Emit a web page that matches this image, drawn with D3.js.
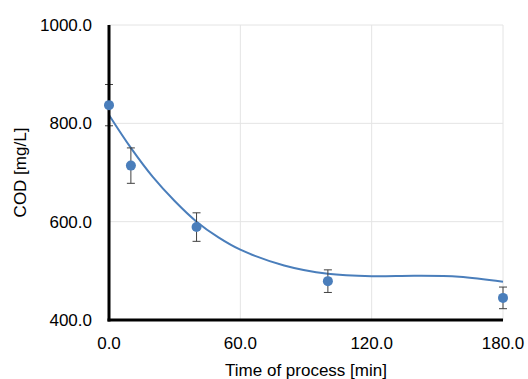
<!DOCTYPE html>
<html>
<head>
<meta charset="utf-8">
<script src="https://cdn.jsdelivr.net/npm/d3@7"></script>
<style>
body { margin: 0; background: #fff; }
text { font-family: "Liberation Sans", Arial, sans-serif; fill: #000; }
.grid line { stroke: #e4e4e4; stroke-width: 1; }
.trend { fill: none; stroke: #4a7ebb; stroke-width: 2; }
.err { stroke: #404040; stroke-width: 1; }
.dot { fill: #4a7ebb; }
</style>
</head>
<body>
<script>
// measured points
var times = [0, 10, 40, 100, 180];
var cod = [837, 714, 589, 479, 445];
var codErr = [42, 36, 29, 23, 22];

// trendline
var trendT = [0, 10, 20, 30, 40, 50, 60, 80, 100, 120, 140, 160, 180];
var trendCod = [817, 750, 691, 642, 600, 568, 543, 511, 494, 489, 490, 488, 478];

var xTicks = [0, 60, 120, 180];
var yTicks = [400, 600, 800, 1000];

var width = 528, height = 379;
var margin = {top: 25, right: 25, bottom: 59, left: 109};

var svg = d3.select("body").append("svg")
    .attr("width", width)
    .attr("height", height);

var x = d3.scaleLinear().domain([0, 180]).range([margin.left, width - margin.right]);
var y = d3.scaleLinear().domain([400, 1000]).range([height - margin.bottom, margin.top]);

// gridlines
var grid = svg.append("g").attr("class", "grid");
grid.selectAll(".gy").data(yTicks.slice(1)).enter().append("line")
    .attr("x1", x(0)).attr("x2", x(180))
    .attr("y1", function(d) { return y(d); }).attr("y2", function(d) { return y(d); });
grid.selectAll(".gx").data(xTicks.slice(1)).enter().append("line")
    .attr("y1", y(400)).attr("y2", y(1000))
    .attr("x1", function(d) { return x(d); }).attr("x2", function(d) { return x(d); });

// trendline
var line = d3.line()
    .x(function(d, i) { return x(trendT[i]); })
    .y(function(d) { return y(d); })
    .curve(d3.curveCatmullRom.alpha(0.5));
svg.append("path").datum(trendCod).attr("class", "trend").attr("d", line);

// error bars
var eb = svg.append("g");
times.forEach(function(t, i) {
  var cx = x(t), hi = y(cod[i] + codErr[i]), lo = y(cod[i] - codErr[i]);
  eb.append("line").attr("class", "err").attr("x1", cx).attr("x2", cx).attr("y1", hi).attr("y2", lo);
  eb.append("line").attr("class", "err").attr("x1", cx - 4).attr("x2", cx + 4).attr("y1", hi).attr("y2", hi);
  eb.append("line").attr("class", "err").attr("x1", cx - 4).attr("x2", cx + 4).attr("y1", lo).attr("y2", lo);
});

// axes lines
svg.append("line").attr("x1", x(0)).attr("x2", x(0)).attr("y1", y(1000)).attr("y2", y(400) + 1.5)
    .attr("stroke", "#000").attr("stroke-width", 3);
svg.append("line").attr("x1", x(0) - 1.5).attr("x2", x(180)).attr("y1", y(400)).attr("y2", y(400))
    .attr("stroke", "#000").attr("stroke-width", 3);

// points
svg.selectAll(".dot").data(times).enter().append("circle")
    .attr("class", "dot")
    .attr("cx", function(d) { return x(d); })
    .attr("cy", function(d, i) { return y(cod[i]); })
    .attr("r", 5);

// tick labels
svg.selectAll(".yl").data(yTicks).enter().append("text")
    .attr("x", 92).attr("y", function(d) { return y(d); })
    .attr("dy", "0.36em")
    .attr("text-anchor", "end")
    .style("font-size", "17px")
    .text(function(d) { return d.toFixed(1); });
svg.selectAll(".xl").data(xTicks).enter().append("text")
    .attr("x", function(d) { return x(d); }).attr("y", 349)
    .attr("text-anchor", "middle")
    .style("font-size", "17px")
    .text(function(d) { return d.toFixed(1); });

// axis titles
svg.append("text")
    .attr("x", 306).attr("y", 376)
    .attr("text-anchor", "middle")
    .style("font-size", "17px")
    .text("Time of process [min]");
svg.append("text")
    .attr("transform", "translate(26," + y(700) + ") rotate(-90)")
    .attr("text-anchor", "middle")
    .style("font-size", "17px")
    .text("COD [mg/L]");
</script>
</body>
</html>
